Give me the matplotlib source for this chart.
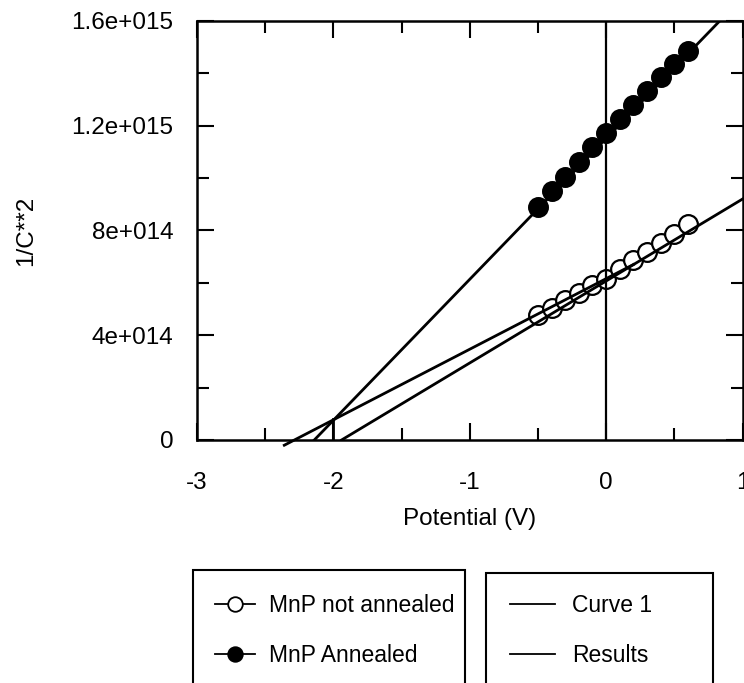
import numpy as np
import matplotlib
matplotlib.use("Agg")
import matplotlib.pyplot as plt
from matplotlib.lines import Line2D
from matplotlib.patches import Rectangle
from matplotlib.ticker import FixedLocator, FixedFormatter

plt.rcParams['font.family'] = ['Liberation Sans', 'DejaVu Sans']

# measured points (potential in V, 1/C^2)
potential = [-0.5, -0.4, -0.3, -0.2, -0.1, 0.0, 0.1, 0.2, 0.3, 0.4, 0.5, 0.6]
not_annealed = [4.79e14, 5.05e14, 5.33e14, 5.62e14, 5.90e14, 6.16e14,
                6.51e14, 6.86e14, 7.19e14, 7.53e14, 7.88e14, 8.24e14]
annealed = [8.88e14, 9.49e14, 10.05e14, 10.60e14, 11.20e14, 11.71e14,
            12.26e14, 12.80e14, 13.34e14, 13.86e14, 14.34e14, 14.85e14]

# fitted lines (end points)
fit_ann_x = [-2.14, 1.0]
fit_ann_y = [0.0, 16.9e14]
fit_na1_x = [-2.36, 0.2]
fit_na1_y = [-0.2e14, 6.7e14]
fit_na2_x = [-1.94, 1.0]
fit_na2_y = [0.0, 9.2e14]
drop_x = [-2.0, -2.0]
drop_y = [0.0, 0.8e14]

xticks = [-3, -2, -1, 0, 1]
xticklabels = ['-3', '-2', '-1', '0', '1']
yticks = [0, 4e14, 8e14, 12e14, 16e14]
yticklabels = ['0', '4e+014', '8e+014', '1.2e+015', '1.6e+015']

fs = 17.5
fig = plt.figure(figsize=(7.44, 6.83), dpi=100)
ax = fig.add_axes([0.2648, 0.3558, 0.7332, 0.6135])

ax.plot(potential, not_annealed, 'o', ms=13.5, mfc='white', mec='black', mew=1.6, zorder=2)
ax.plot(potential, annealed, 'o', ms=13.5, mfc='black', mec='black', mew=1.6, zorder=2)

lw = 2.0
ax.plot(fit_ann_x, fit_ann_y, 'k-', lw=lw, zorder=3)
ax.plot(fit_na1_x, fit_na1_y, 'k-', lw=lw, zorder=3, clip_on=False)
ax.plot(fit_na2_x, fit_na2_y, 'k-', lw=lw, zorder=3)
ax.plot(drop_x, drop_y, 'k-', lw=lw, zorder=3)
ax.axvline(0, color='k', lw=1.6, zorder=3)

ax.set_xlim(-3, 1)
ax.set_ylim(0, 1.6e15)

ax.xaxis.set_major_locator(FixedLocator(xticks))
ax.xaxis.set_major_formatter(FixedFormatter(xticklabels))
ax.xaxis.set_minor_locator(FixedLocator(np.arange(-2.5, 1, 1.0)))
ax.yaxis.set_major_locator(FixedLocator(yticks))
ax.yaxis.set_major_formatter(FixedFormatter(yticklabels))
ax.yaxis.set_minor_locator(FixedLocator(np.arange(2e14, 16e14, 4e14)))

ax.tick_params(which='both', direction='in', top=True, right=True, width=1.5,
               labelsize=fs, color='black')
ax.tick_params(axis='x', which='both', pad=23)
ax.tick_params(axis='y', which='both', pad=17)
ax.tick_params(which='major', length=12)
ax.tick_params(which='minor', length=8.5)
for s in ax.spines.values():
    s.set_linewidth(1.8)

ax.set_xlabel('Potential (V)', fontsize=fs, labelpad=10)
ax.set_ylabel('1/C**2', fontsize=fs, labelpad=25)

# legend frames (they run past the bottom edge)
fig.patches.append(Rectangle((0.2594, -0.1), 0.3656, 0.2654, transform=fig.transFigure,
                             fill=False, edgecolor='black', lw=1.5))
fig.patches.append(Rectangle((0.6532, -0.1), 0.3051, 0.2610, transform=fig.transFigure,
                             fill=False, edgecolor='black', lw=1.5))

lfs = 16.5
h1 = [Line2D([], [], color='k', lw=1.3, marker='o', ms=10.5, mfc='white', mec='k', mew=1.3),
      Line2D([], [], color='k', lw=1.3, marker='o', ms=10.5, mfc='black', mec='k', mew=1.3)]
leg1 = fig.legend(h1, ['MnP not annealed', 'MnP Annealed'], loc='upper left',
                  bbox_to_anchor=(0.289, 0.1300), frameon=False, fontsize=lfs,
                  handlelength=1.75, handletextpad=0.6, labelspacing=1.15,
                  borderpad=0, borderaxespad=0)
h2 = [Line2D([], [], color='k', lw=1.3), Line2D([], [], color='k', lw=1.3)]
leg2 = fig.legend(h2, ['Curve 1', 'Results'], loc='upper left',
                  bbox_to_anchor=(0.6855, 0.1300), frameon=False, fontsize=lfs,
                  handlelength=1.95, handletextpad=0.75, labelspacing=1.15,
                  borderpad=0, borderaxespad=0)

fig.savefig('out.png', dpi=100)
